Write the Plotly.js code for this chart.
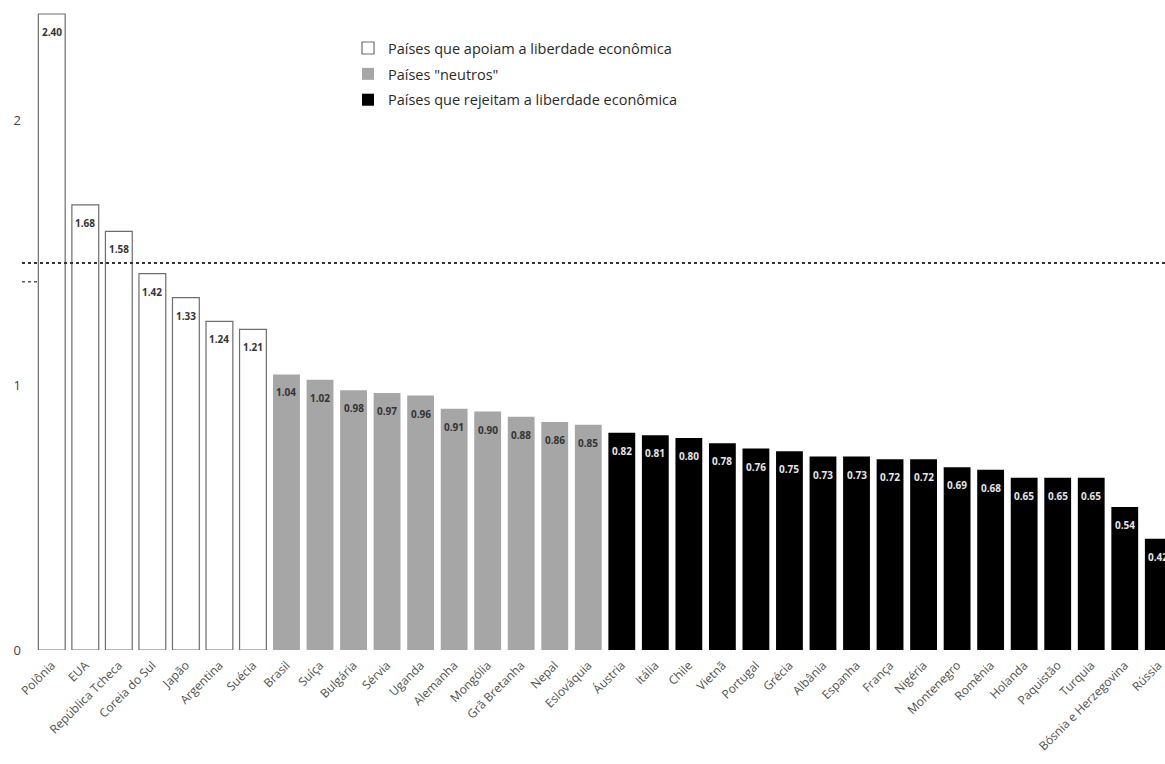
<!DOCTYPE html>
<html>
<head>
<meta charset="utf-8">
<script src="https://cdn.plot.ly/plotly-3.0.1.min.js"></script>
<style>html,body{margin:0;padding:0;background:#fff;}#chart{width:1165px;height:764px;}</style>
</head>
<body>
<div id="chart"></div>
<script>
const countries = ["Polônia","EUA","República Tcheca","Coreia do Sul","Japão","Argentina","Suécia",
  "Brasil","Suíça","Bulgária","Sérvia","Uganda","Alemanha","Mongólia","Grã Bretanha","Nepal","Eslováquia",
  "Áustria","Itália","Chile","Vietnã","Portugal","Grécia","Albânia","Espanha","França","Nigéria","Montenegro",
  "Romênia","Holanda","Paquistão","Turquia","Bósnia e Herzegovina","Rússia"];
const values = [2.40,1.68,1.58,1.42,1.33,1.24,1.21,
  1.04,1.02,0.98,0.97,0.96,0.91,0.90,0.88,0.86,0.85,
  0.82,0.81,0.80,0.78,0.76,0.75,0.73,0.73,0.72,0.72,0.69,
  0.68,0.65,0.65,0.65,0.54,0.42];
const groups = [0,0,0,0,0,0,0, 1,1,1,1,1,1,1,1,1,1, 2,2,2,2,2,2,2,2,2,2,2,2,2,2,2,2,2];
const groupNames = ["Países que apoiam a liberdade econômica","Países \"neutros\"","Países que rejeitam a liberdade econômica"];
const referenceLine = 1.46;
const shortMark = 1.39;

const fills = ["#ffffff","#a6a6a6","#000000"];
const outlines = ["#6e6e6e","#a6a6a6","#000000"];
const textColors = ["#333333","#333333","#e6e6e6"];

const traces = groupNames.map((name, g) => {
  const xs = [], ys = [];
  countries.forEach((c, i) => { if (groups[i] === g) { xs.push(c); ys.push(values[i]); } });
  return {
    type: 'bar', name: name, x: xs, y: ys,
    legendgroup: 'g' + g,
    marker: {color: fills[g], line: {color: outlines[g], width: g === 0 ? 1.2 : 0}},
    width: 0.8, hoverinfo: 'x+y'
  };
});

const annotations = countries.map((c, i) => ({
  x: c, y: values[i], xref: 'x', yref: 'y', text: values[i].toFixed(2),
  showarrow: false, yanchor: 'top', yshift: -9,
  font: {size: 10, color: textColors[groups[i]], family: 'Open Sans, sans-serif', weight: 'bold'}
}));

const layout = {
  width: 1165, height: 764,
  margin: {l: 35, r: 0, t: 5, b: 114},
  paper_bgcolor: '#fff', plot_bgcolor: '#fff',
  barmode: 'relative',
  font: {family: 'Open Sans, sans-serif', color: '#444'},
  xaxis: {
    type: 'category', categoryorder: 'array', categoryarray: countries,
    range: [-0.5, 33.2], tickangle: -45, tickfont: {size: 12, color: '#505050'},
    ticklabelstandoff: 5,
    showgrid: false, zeroline: false, showline: false, ticks: '', automargin: false
  },
  yaxis: {
    range: [0, 2.434], dtick: 1, tick0: 0, showgrid: false, zeroline: false, showline: false,
    ticks: '', tickfont: {size: 13, color: '#444'}, ticklabelstandoff: 13, automargin: false
  },
  legend: {
    x: 0.277, y: 0.958, xanchor: 'left', yanchor: 'top',
    font: {size: 14.5, color: '#2a2a2a'}, traceorder: 'grouped', tracegroupgap: 4,
    bgcolor: 'rgba(0,0,0,0)', itemwidth: 30
  },
  annotations: annotations,
  shapes: [
    {type: 'line', xref: 'paper', yref: 'y', x0: -0.0115, x1: 1, y0: referenceLine, y1: referenceLine,
     line: {color: '#333', width: 2, dash: 'dot'}, layer: 'above'},
    {type: 'line', xref: 'paper', yref: 'y', x0: -0.0115, x1: 0.004, y0: shortMark, y1: shortMark,
     line: {color: '#555', width: 1.5, dash: 'dot'}, layer: 'above'}
  ],
  showlegend: true
};

Plotly.newPlot('chart', traces, layout, {displayModeBar: false, staticPlot: true});
</script>
</body>
</html>
